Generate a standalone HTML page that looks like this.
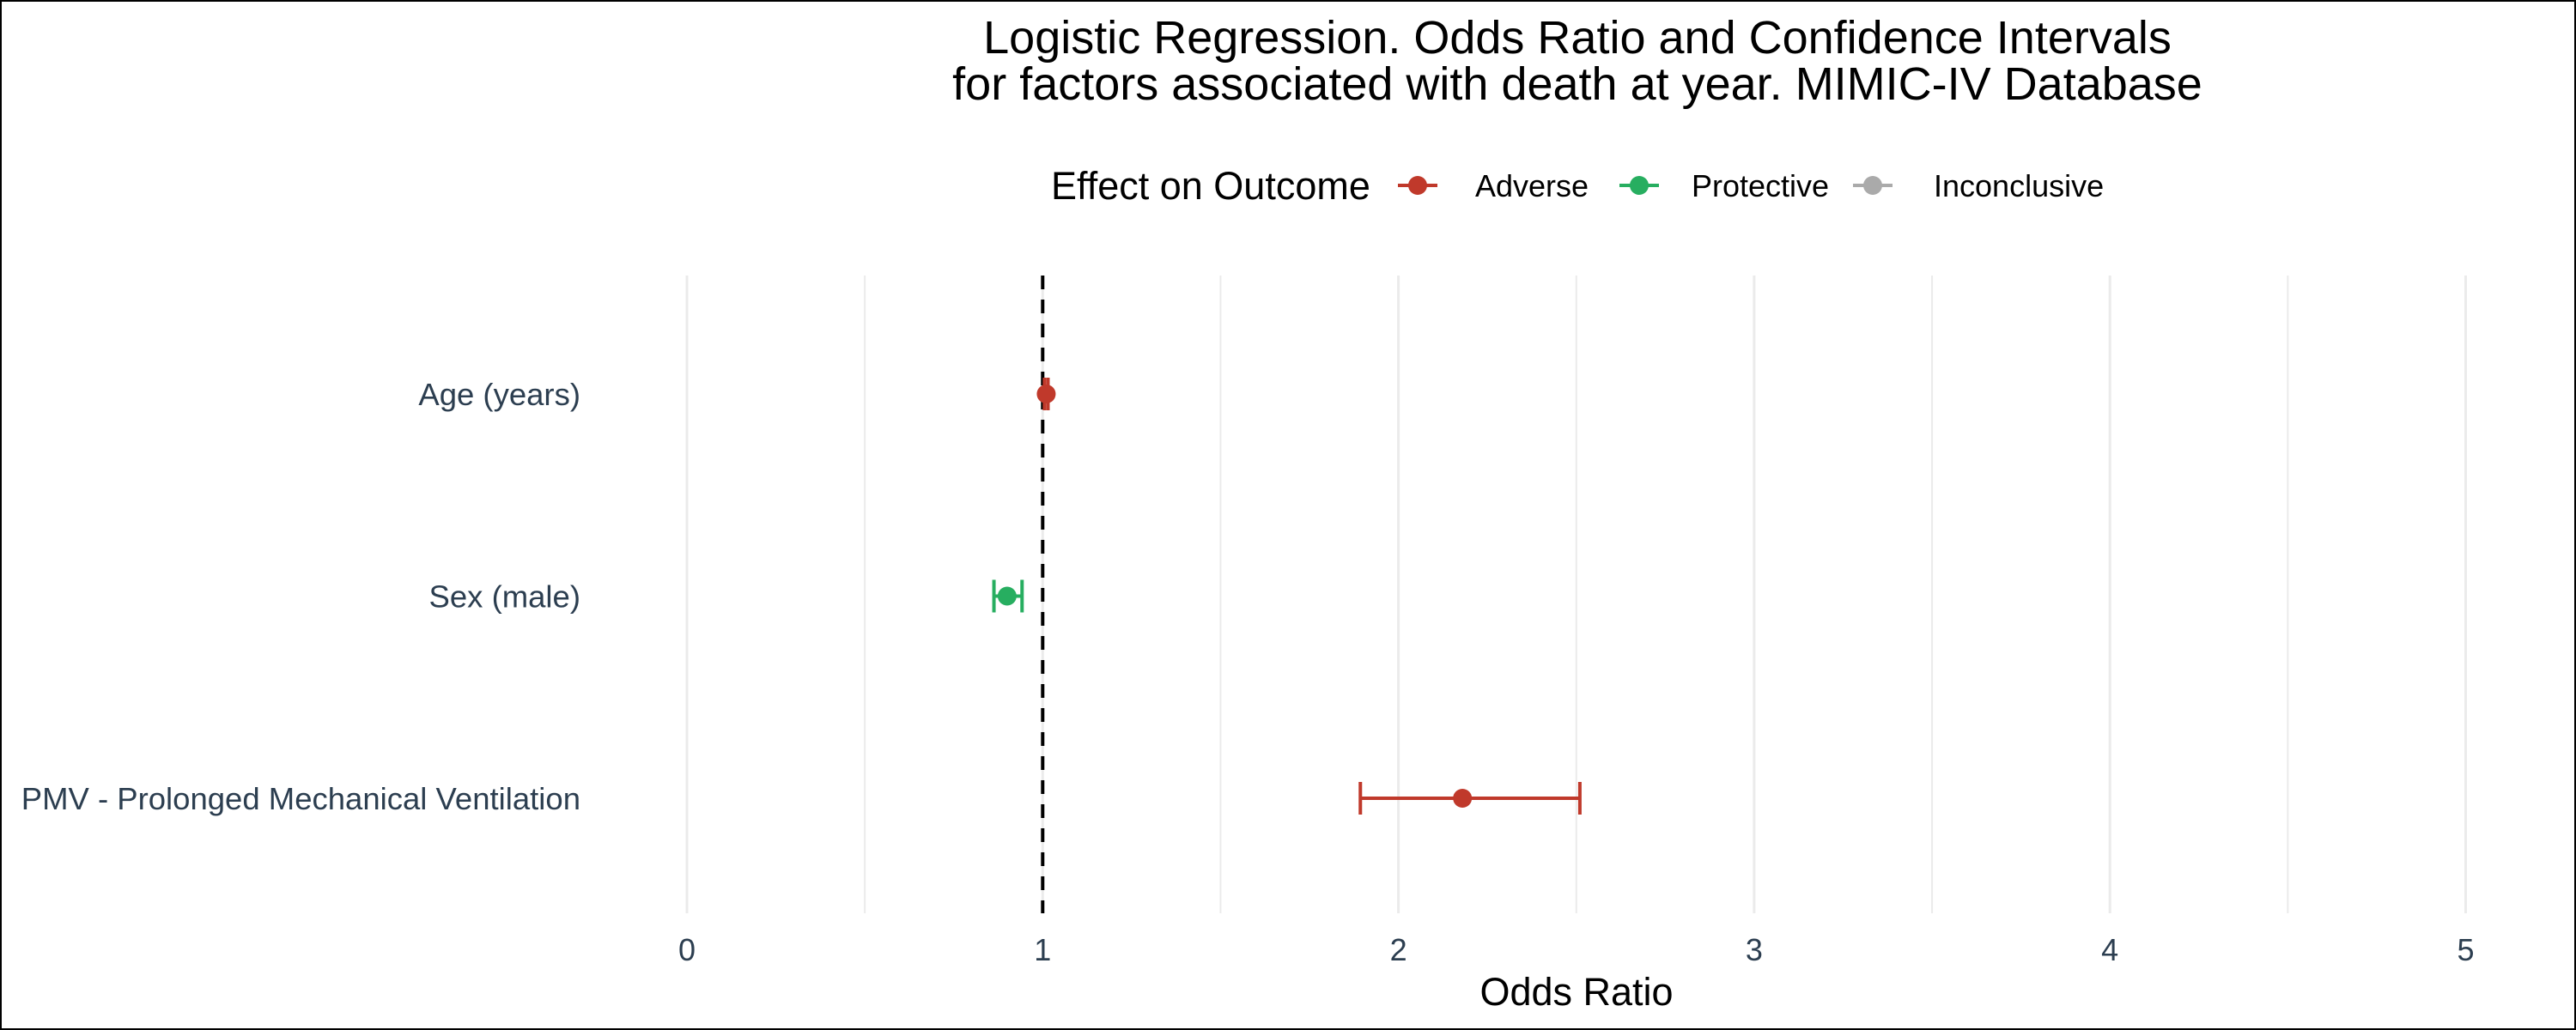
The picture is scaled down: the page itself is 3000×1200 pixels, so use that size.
<!DOCTYPE html>
<html><head><meta charset="utf-8"><style>
html,body{margin:0;padding:0;background:#fff}
svg{display:block;font-family:"Liberation Sans",Arial,sans-serif}
</style></head><body>
<svg id="chart" width="3000" height="1200" viewBox="0 0 3000 1200">
<rect x="1" y="1" width="2998" height="1198" fill="#fff" stroke="#000" stroke-width="2"/>
<text x="1837" y="62" font-size="54" text-anchor="middle" fill="#000">Logistic Regression. Odds Ratio and Confidence Intervals</text>
<text x="1837" y="116" font-size="54" text-anchor="middle" fill="#000">for factors associated with death at year. MIMIC-IV Database</text>
<g>
<text x="1224" y="232" font-size="45" fill="#000">Effect on Outcome</text>
<g><line x1="1628" x2="1674" y1="216" y2="216" stroke="#c0392b" stroke-width="4"/><circle cx="1651" cy="216" r="11" fill="#c0392b"/><text x="1718" y="229" font-size="36" fill="#000">Adverse</text></g>
<g><line x1="1886" x2="1932" y1="216" y2="216" stroke="#27ae60" stroke-width="4"/><circle cx="1909" cy="216" r="11" fill="#27ae60"/><text x="1970" y="229" font-size="36" fill="#000">Protective</text></g>
<g><line x1="2158" x2="2204" y1="216" y2="216" stroke="#aaaaaa" stroke-width="4"/><circle cx="2181" cy="216" r="11" fill="#aaaaaa"/><text x="2252" y="229" font-size="36" fill="#000">Inconclusive</text></g>
</g>
<g id="grid"></g>
<g id="xaxis"></g>
<g id="yaxis"></g>
<g id="marks"></g>
<text x="1836" y="1171" font-size="45" text-anchor="middle" fill="#000">Odds Ratio</text>
</svg>
<script>
const categories = ["Age (years)", "Sex (male)", "PMV - Prolonged Mechanical Ventilation"];
const oddsRatios = [1.01, 0.90, 2.18];
const ciLower = [1.005, 0.863, 1.893];
const ciUpper = [1.015, 0.942, 2.51];
const effects = ["Adverse", "Protective", "Adverse"];
const xTicks = [0, 1, 2, 3, 4, 5];
const xTickLabels = ["0", "1", "2", "3", "4", "5"];
const minorTicks = [0.5, 1.5, 2.5, 3.5, 4.5];
const refValue = 1;

const NS = "http://www.w3.org/2000/svg";
const colors = {Adverse:"#c0392b", Protective:"#27ae60", Inconclusive:"#aaaaaa"};
const X0 = 800, XU = 414.3, TOP = 321, BOT = 1064;
function xs(v){ return X0 + v * XU; }
function ys(i){ return 459 + i * 235.5; }
function mk(tag, attrs, parent){ const e=document.createElementNS(NS,tag); for(const k in attrs) e.setAttribute(k, attrs[k]); parent.appendChild(e); return e; }

const grid = document.getElementById("grid");
minorTicks.forEach(v=>{
  const l = mk("line",{x1:xs(v),x2:xs(v),y1:TOP,y2:BOT,stroke:"#ebebeb","stroke-width":2},grid);
  
  
});
xTicks.forEach(v=>{
  const l = mk("line",{x1:xs(v),x2:xs(v),y1:TOP,y2:BOT,stroke:"#ebebeb","stroke-width":3},grid);
  
  
});
const xa = document.getElementById("xaxis");
xTicks.forEach((v,i)=>{
  const t = mk("text",{x:xs(v),y:1119,"font-size":36,"text-anchor":"middle",fill:"#2c3e50"},xa);
  t.textContent = xTickLabels[i];
  
  
});
const ya = document.getElementById("yaxis");
categories.forEach((c,i)=>{
  const t = mk("text",{x:676,y:ys(i)+13,"font-size":36.5,"text-anchor":"end",fill:"#2c3e50"},ya);
  t.textContent = c;
  
  
});
const marks = document.getElementById("marks");
const ref = mk("line",{x1:xs(refValue),x2:xs(refValue),y1:TOP,y2:BOT,stroke:"#000","stroke-width":4,"stroke-dasharray":"16,12"},marks);


categories.forEach((c,i)=>{
  const col = colors[effects[i]], y = ys(i), h = 19;
  const g = mk("g",{},marks);
  
  
  mk("line",{x1:xs(ciLower[i]),x2:xs(ciUpper[i]),y1:y,y2:y,stroke:col,"stroke-width":4},g);
  mk("line",{x1:xs(ciLower[i]),x2:xs(ciLower[i]),y1:y-h,y2:y+h,stroke:col,"stroke-width":4},g);
  mk("line",{x1:xs(ciUpper[i]),x2:xs(ciUpper[i]),y1:y-h,y2:y+h,stroke:col,"stroke-width":4},g);
  const p = mk("circle",{cx:xs(oddsRatios[i]),cy:y,r:11,fill:col},marks);
  
  
});
</script>
</body></html>
